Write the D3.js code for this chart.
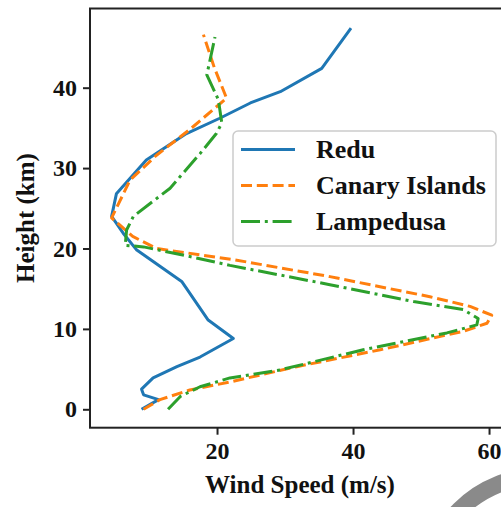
<!DOCTYPE html>
<html><head><meta charset="utf-8">
<script src="https://cdn.jsdelivr.net/npm/d3@7"></script>
<style>body{margin:0;background:#fff}svg{display:block}</style>
</head><body>
<svg id="c" width="501" height="507"></svg>
<script>
const seriesNames = ["Redu", "Canary Islands", "Lampedusa"];
const seriesColors = ["#1f77b4", "#ff7f0e", "#2ca02c"];
// [wind speed (m/s), height (km)]
const redu = [[8.9,0],[11.4,1.2],[9.2,1.8],[8.9,2.5],[10.6,3.9],[14.1,5.3],[17.5,6.5],[22.4,8.8],[18.7,11.1],[14.8,15.9],[8.2,19.8],[6.2,21.9],[4.5,24.0],[5.2,26.8],[9.6,31.0],[15.5,34.3],[20.4,36.2],[24.9,38.1],[29.3,39.5],[35.4,42.4],[39.7,47.4]];
const canary = [[9.2,0],[11.6,1.2],[16.0,2.4],[21.9,3.4],[31.7,5.3],[44.0,7.4],[56.2,9.7],[59.7,10.7],[60.4,11.7],[57.2,12.8],[51.3,14.0],[36.6,16.5],[22.5,18.6],[11.1,20.0],[7.6,21.5],[4.5,23.8],[7.2,28.5],[11.1,31.6],[16.0,34.8],[21.4,38.7],[19.6,42.5],[18.0,46.6]];
const lampedusa = [[12.8,0],[14.6,1.6],[17.5,2.8],[21.9,3.9],[29.3,4.9],[41.5,7.4],[53.8,9.5],[58.2,10.5],[58.4,11.3],[56.2,12.4],[48.9,13.4],[36.6,15.5],[21.9,17.9],[16.0,19.0],[9.2,20.2],[6.5,20.4],[6.7,22.3],[7.7,24.0],[13.1,27.5],[17.5,31.8],[19.9,34.3],[20.7,35.6],[20.2,38.5],[18.5,41.6],[19.7,46.3]];
const xTicks = [20, 40, 60];
const yTicks = [0, 10, 20, 30, 40];
const xLabel = "Wind Speed (m/s)";
const yLabel = "Height (km)";

const allSeries = [redu, canary, lampedusa];
const dashes = [null, "11,4.8", "19,4.8,3,4.8"];

const svg = d3.select("#c");
const FONT = "'Liberation Serif','Times New Roman',serif";
const L = 90, R = 504, T = 8.5, B = 427.7;
const x = d3.scaleLinear().domain([1.32, 62.2]).range([L, R]);
const y = d3.scaleLinear().domain([-2.29, 49.85]).range([B, T]);

// decorative grey ring (bottom right)
svg.append("circle").attr("cx", 540).attr("cy", 590).attr("r", 113.6)
  .attr("fill", "none").attr("stroke", "#8a8a8a").attr("stroke-width", 17);

svg.append("clipPath").attr("id", "pc").append("rect")
  .attr("x", L).attr("y", T).attr("width", R - L).attr("height", B - T);

const line = d3.line().x(d => x(d[0])).y(d => y(d[1]));
const g = svg.append("g").attr("clip-path", "url(#pc)");
allSeries.forEach((s, i) => {
  g.append("path").datum(s).attr("d", line)
    .attr("fill", "none").attr("stroke", seriesColors[i])
    .attr("stroke-width", 3).attr("stroke-linejoin", "round")
    .attr("stroke-dasharray", dashes[i]);
});

// axes
const xAxis = d3.axisBottom(x).tickValues(xTicks).tickSize(7).tickPadding(5).tickFormat(d3.format("d"));
const yAxis = d3.axisLeft(y).tickValues(yTicks).tickSize(7).tickPadding(6).tickFormat(d3.format("d"));
const gx = svg.append("g").attr("transform", `translate(0,${B})`).call(xAxis);
const gy = svg.append("g").attr("transform", `translate(${L},0)`).call(yAxis);
[gx, gy].forEach(a => {
  a.select(".domain").remove();
  a.selectAll(".tick line").attr("stroke", "#222").attr("stroke-width", 2);
  a.selectAll(".tick text").attr("fill", "#111").attr("font-family", FONT)
    .attr("font-weight", "bold").attr("font-size", 24);
});
gx.selectAll(".tick text").attr("dy", "0.8em");
// spines
svg.append("rect").attr("x", L).attr("y", T).attr("width", R - L).attr("height", B - T)
  .attr("fill", "none").attr("stroke", "#222").attr("stroke-width", 2);

svg.append("text").attr("x", 300).attr("y", 493).attr("text-anchor", "middle")
  .attr("font-family", FONT).attr("font-weight", "bold").attr("font-size", 25)
  .attr("fill", "#111").text(xLabel);
svg.append("text").attr("transform", "translate(34,218) rotate(-90)").attr("text-anchor", "middle")
  .attr("font-family", FONT).attr("font-weight", "bold").attr("font-size", 25)
  .attr("fill", "#111").text(yLabel);

// legend
const lg = svg.append("g");
lg.append("rect").attr("x", 233).attr("y", 131).attr("width", 263).attr("height", 115).attr("rx", 5)
  .attr("fill", "#fff").attr("fill-opacity", 0.85).attr("stroke", "#ccc").attr("stroke-width", 1.5);
seriesNames.forEach((n, i) => {
  const yy = 149.5 + i * 36;
  lg.append("line").attr("x1", 241).attr("x2", 295).attr("y1", yy).attr("y2", yy)
    .attr("stroke", seriesColors[i]).attr("stroke-width", 3).attr("stroke-dasharray", dashes[i]);
  lg.append("text").attr("x", 316).attr("y", yy + 8.5).attr("font-family", FONT)
    .attr("font-weight", "bold").attr("font-size", 26).attr("fill", "#111").text(n);
});
</script>
</body></html>
